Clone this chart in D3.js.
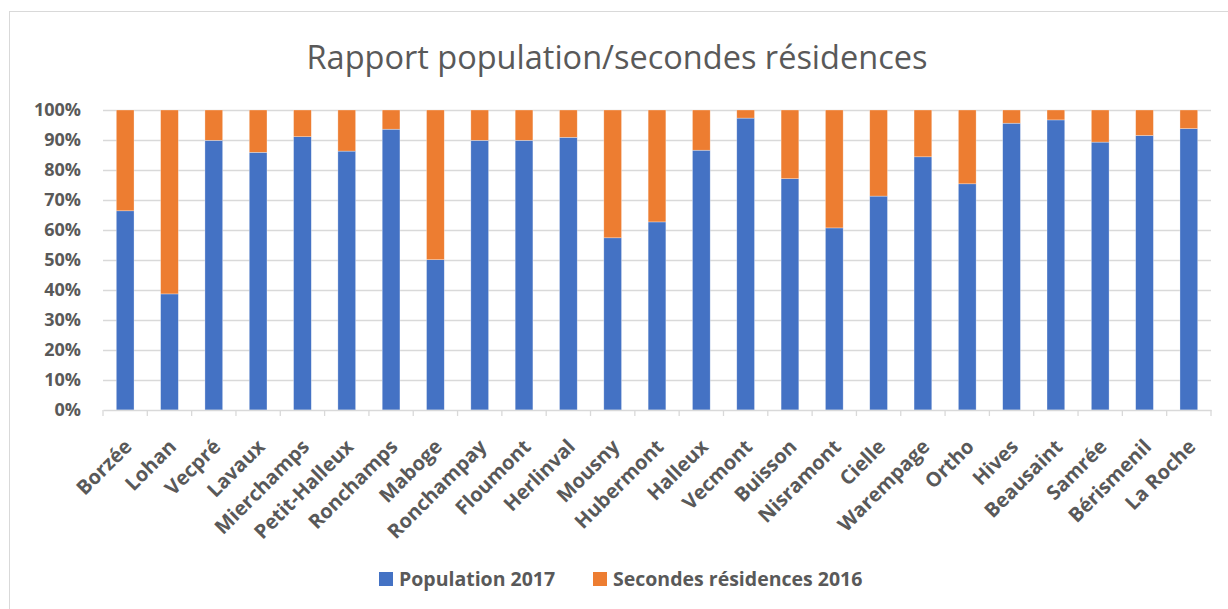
<!DOCTYPE html>
<html>
<head>
<meta charset="utf-8">
<script src="https://cdn.jsdelivr.net/npm/d3@7"></script>
<style>
  html, body { margin: 0; padding: 0; background: #fff; }
  svg { display: block; }
  text { font-family: "Open Sans", "Noto Sans", sans-serif; }
</style>
</head>
<body>
<svg id="chart" width="1228" height="609"></svg>
<script>
const title = "Rapport population/secondes résidences";
const categories = ["Borzée","Lohan","Vecpré","Lavaux","Mierchamps","Petit-Halleux","Ronchamps","Maboge","Ronchampay","Floumont","Herlinval","Mousny","Hubermont","Halleux","Vecmont","Buisson","Nisramont","Cielle","Warempage","Ortho","Hives","Beausaint","Samrée","Bérismenil","La Roche"];
const seriesNames = ["Population 2017", "Secondes résidences 2016"];
const population = [66.4, 38.7, 89.9, 85.9, 91.1, 86.3, 93.6, 50.1, 89.9, 89.9, 90.9, 57.4, 62.7, 86.6, 97.3, 77.1, 60.7, 71.3, 84.4, 75.4, 95.6, 96.7, 89.3, 91.5, 93.8];
const secondes = [33.6, 61.3, 10.1, 14.1, 8.9, 13.7, 6.4, 49.9, 10.1, 10.1, 9.1, 42.6, 37.3, 13.4, 2.7, 22.9, 39.3, 28.7, 15.6, 24.6, 4.4, 3.3, 10.7, 8.5, 6.2];
const yTicks = [0, 0.1, 0.2, 0.3, 0.4, 0.5, 0.6, 0.7, 0.8, 0.9, 1.0];
const colors = ["#4472C4", "#ED7D31"];

const svg = d3.select("#chart");
const textColor = "#595959";
const gridColor = "#d9d9d9";

// outer frame
svg.append("rect").attr("x", 9.5).attr("y", 11.5).attr("width", 1300).attr("height", 700)
  .attr("fill", "#fff").attr("stroke", gridColor).attr("stroke-width", 1);

const plot = {left: 103, right: 1211, top: 110, bottom: 410};

const x = d3.scaleBand().domain(categories).range([plot.left, plot.right])
  .paddingInner(0.6).paddingOuter(0.3);
const y = d3.scaleLinear().domain([0, 1]).range([plot.bottom, plot.top]);

// title
svg.append("text").attr("x", 617).attr("y", 69).attr("text-anchor", "middle")
  .attr("font-size", 32.5).attr("fill", textColor).text(title);

// gridlines
svg.append("g").selectAll("line").data(yTicks.slice(1)).join("line")
  .attr("x1", plot.left).attr("x2", plot.right)
  .attr("y1", d => Math.round(y(d)) + 0.5).attr("y2", d => Math.round(y(d)) + 0.5)
  .attr("stroke", gridColor).attr("stroke-width", 1.3);

// y axis labels
const yAxis = d3.axisLeft(y).tickValues(yTicks).tickFormat(d3.format(".0%")).tickSize(0).tickPadding(22);
const gy = svg.append("g").attr("transform", `translate(${plot.left},0)`).call(yAxis);
gy.select(".domain").remove();
gy.selectAll("text").attr("font-size", 18).attr("font-weight", 700).attr("fill", textColor)
  .attr("font-family", '"Open Sans", sans-serif');

// stacked data
const rows = categories.map((c, i) => {
  const t = population[i] + secondes[i];
  return {cat: c, pop: population[i] / t, sec: secondes[i] / t};
});
const stack = d3.stack().keys(["pop", "sec"]);
const stacked = stack(rows);

svg.append("g").selectAll("g").data(stacked).join("g")
  .attr("fill", (d, i) => colors[i])
  .selectAll("rect").data(d => d).join("rect")
  .attr("x", d => x(d.data.cat))
  .attr("width", x.bandwidth())
  .attr("y", d => y(d[1]))
  .attr("height", d => y(d[0]) - y(d[1]))
  .attr("stroke", "#ffffff").attr("stroke-width", 0.6).attr("stroke-opacity", 0.5);

// x axis
const xAxis = d3.axisBottom(x).tickSize(0).tickFormat("");
const gx = svg.append("g").attr("transform", `translate(0,${plot.bottom})`).call(xAxis);
gx.select(".domain").attr("stroke", gridColor).attr("stroke-width", 1.3);
const step = x.step();
const boundaries = d3.range(categories.length + 1).map(i => plot.left + i * step);
svg.append("g").selectAll("line").data(boundaries).join("line")
  .attr("x1", d => d).attr("x2", d => d)
  .attr("y1", plot.bottom).attr("y2", plot.bottom + 6)
  .attr("stroke", gridColor).attr("stroke-width", 1.3);

// x labels
svg.append("g").selectAll("text").data(categories).join("text")
  .attr("transform", d => `translate(${x(d) + x.bandwidth() / 2 + 8},448) rotate(-45)`)
  .attr("text-anchor", "end")
  .attr("font-size", 20).attr("font-weight", 700).attr("fill", textColor)
  .text(d => d);

// legend
const legend = svg.append("g");
const legendItems = [{name: seriesNames[0], color: colors[0], x: 379}, {name: seriesNames[1], color: colors[1], x: 593}];
const li = legend.selectAll("g").data(legendItems).join("g")
  .attr("transform", d => `translate(${d.x},572)`);
li.append("rect").attr("width", 14).attr("height", 14).attr("fill", d => d.color);
li.append("text").attr("x", 20).attr("y", 14).attr("font-size", 19.5).attr("font-weight", 700)
  .attr("fill", textColor).text(d => d.name);
</script>
</body>
</html>
